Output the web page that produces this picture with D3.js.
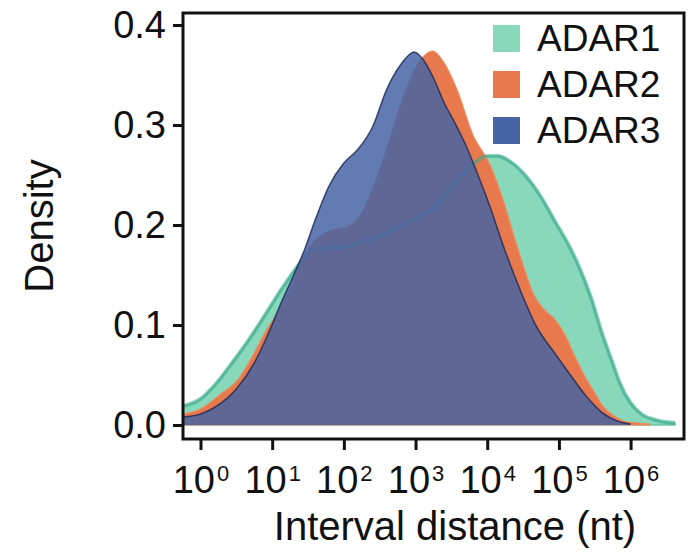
<!DOCTYPE html>
<html>
<head>
<meta charset="utf-8">
<script src="https://cdn.jsdelivr.net/npm/d3@7"></script>
<style>
  html, body { margin: 0; padding: 0; background: #fff; }
  svg { display: block; font-family: "Liberation Sans", Arial, Helvetica, sans-serif; }
</style>
</head>
<body>
<svg id="chart" width="689" height="553"></svg>
<script>
// Density of log10 interval distance (nt) between editing sites, per ADAR family member.
const seriesNames = ["ADAR1", "ADAR2", "ADAR3"];
const seriesColors = ["#88d8bb", "#e8794d", "#4764a5"];

const adar1LogDist = [-0.244, 0.0, 0.2, 0.45, 0.7, 0.9, 1.15, 1.4, 1.55, 1.75, 2.0, 2.3, 2.6, 2.9, 3.2, 3.5, 3.75, 4.0, 4.15, 4.35, 4.55, 4.75, 4.95, 5.15, 5.3, 5.45, 5.6, 5.75, 5.85, 6.0, 6.15, 6.35, 6.62];
const adar1Density = [0.019, 0.026, 0.040, 0.063, 0.088, 0.110, 0.138, 0.163, 0.175, 0.177, 0.178, 0.184, 0.192, 0.202, 0.215, 0.237, 0.257, 0.269, 0.269, 0.262, 0.248, 0.228, 0.203, 0.178, 0.155, 0.127, 0.092, 0.062, 0.042, 0.022, 0.011, 0.005, 0.002];

const adar2LogDist = [-0.244, 0.0, 0.25, 0.55, 0.75, 0.92, 1.1, 1.3, 1.47, 1.65, 1.85, 2.05, 2.25, 2.45, 2.65, 2.85, 3.05, 3.24, 3.4, 3.58, 3.8, 4.04, 4.22, 4.36, 4.5, 4.65, 4.8, 4.95, 5.1, 5.2, 5.35, 5.5, 5.6, 5.75, 5.9, 6.1, 6.27];
const adar2Density = [0.011, 0.016, 0.029, 0.048, 0.072, 0.095, 0.115, 0.145, 0.172, 0.188, 0.195, 0.198, 0.212, 0.245, 0.288, 0.332, 0.363, 0.374, 0.362, 0.335, 0.290, 0.260, 0.225, 0.192, 0.160, 0.130, 0.115, 0.105, 0.088, 0.072, 0.050, 0.032, 0.020, 0.010, 0.004, 0.002, 0.001];

const adar3LogDist = [-0.244, 0.0, 0.25, 0.5, 0.75, 0.95, 1.1, 1.3, 1.45, 1.6, 1.8, 2.0, 2.2, 2.4, 2.6, 2.8, 2.98, 3.1, 3.25, 3.4, 3.55, 3.7, 3.86, 4.04, 4.22, 4.46, 4.69, 4.92, 5.15, 5.39, 5.61, 5.81, 6.0];
const adar3Density = [0.008, 0.011, 0.020, 0.036, 0.062, 0.092, 0.118, 0.150, 0.175, 0.205, 0.240, 0.262, 0.276, 0.298, 0.336, 0.361, 0.373, 0.366, 0.347, 0.322, 0.302, 0.280, 0.252, 0.218, 0.180, 0.135, 0.098, 0.074, 0.051, 0.028, 0.012, 0.004, 0.001];

const yTickValues = [0, 0.1, 0.2, 0.3, 0.4];
const xTickExponents = [0, 1, 2, 3, 4, 5, 6];
const xTitle = "Interval distance (nt)";
const yTitle = "Density";

const svg = d3.select("#chart");
const box = { left: 183, right: 684, top: 13, bottom: 439 };

const x = d3.scaleLog()
  .domain([Math.pow(10, -0.244), Math.pow(10, 6.745)])
  .range([box.left, box.right]);
const y = d3.scaleLinear()
  .domain([-0.014, 0.412])
  .range([box.bottom, box.top]);

const toPoints = (logs, dens) => logs.map((l, i) => ({ dist: Math.pow(10, l), density: dens[i] }));
const series = [
  toPoints(adar1LogDist, adar1Density),
  toPoints(adar2LogDist, adar2Density),
  toPoints(adar3LogDist, adar3Density)
];

svg.append("defs").append("clipPath").attr("id", "plotClip")
  .append("rect")
  .attr("x", box.left).attr("y", box.top)
  .attr("width", box.right - box.left).attr("height", box.bottom - box.top);

const area = d3.area()
  .x(d => x(d.dist))
  .y0(y(0))
  .y1(d => y(d.density))
  .curve(d3.curveMonotoneX);
const line = d3.line()
  .x(d => x(d.dist))
  .y(d => y(d.density))
  .curve(d3.curveMonotoneX);

const plot = svg.append("g").attr("clip-path", "url(#plotClip)");

// ADAR1 underneath, ADAR2 over it, ADAR3 translucent on top
plot.append("path").datum(series[0])
  .attr("d", area).attr("fill", seriesColors[0])
  .attr("stroke", "#6cc7a6").attr("stroke-width", 1.5);
plot.append("path").datum(series[1])
  .attr("d", area).attr("fill", seriesColors[1])
  .attr("stroke", "#ef8a5e").attr("stroke-width", 1.2);
plot.append("path").datum(series[0])
  .attr("d", line).attr("fill", "none")
  .attr("stroke", "#3aa88c").attr("stroke-width", 4).attr("stroke-opacity", 0.55);
plot.append("path").datum(series[2])
  .attr("d", area).attr("fill", seriesColors[2]).attr("fill-opacity", 0.85);
plot.append("path").datum(series[2])
  .attr("d", line).attr("fill", "none")
  .attr("stroke", "#1e2a55").attr("stroke-width", 1.6).attr("stroke-opacity", 0.8);

// Frame
svg.append("rect")
  .attr("x", box.left).attr("y", box.top)
  .attr("width", box.right - box.left).attr("height", box.bottom - box.top)
  .attr("fill", "none").attr("stroke", "#111").attr("stroke-width", 3);

// Y axis
const yAxisG = svg.append("g")
  .attr("transform", `translate(${box.left},0)`)
  .call(d3.axisLeft(y).tickValues(yTickValues).tickFormat(d3.format(".1f")).tickSize(10).tickPadding(7));
yAxisG.select(".domain").remove();
yAxisG.selectAll(".tick line").attr("stroke", "#111").attr("stroke-width", 3);
yAxisG.selectAll(".tick text")
  .attr("fill", "#111")
  .attr("font-family", "'Liberation Sans', Arial, sans-serif")
  .attr("font-size", 38);

// X axis with power-of-ten labels
const xAxisG = svg.append("g")
  .attr("transform", `translate(0,${box.bottom})`)
  .call(d3.axisBottom(x).tickValues(xTickExponents.map(k => Math.pow(10, k))).tickFormat(() => "").tickSize(11));
xAxisG.select(".domain").remove();
xAxisG.selectAll(".tick line").attr("stroke", "#111").attr("stroke-width", 3);
xAxisG.selectAll(".tick text").remove();
xAxisG.selectAll(".tick").each(function (d) {
  const t = d3.select(this).append("text")
    .attr("y", 54)
    .attr("text-anchor", "middle")
    .attr("fill", "#111")
    .attr("font-family", "'Liberation Sans', Arial, sans-serif")
    .attr("font-size", 38);
  t.append("tspan").text("10");
  t.append("tspan").attr("font-size", 22).attr("dx", 2).attr("dy", -12)
    .text(Math.round(Math.log10(d)));
});

// Axis titles
svg.append("text")
  .attr("x", 455).attr("y", 540)
  .attr("text-anchor", "middle")
  .attr("font-size", 40).attr("fill", "#111")
  .text(xTitle);
svg.append("text")
  .attr("transform", "translate(53,226) rotate(-90)")
  .attr("text-anchor", "middle")
  .attr("font-size", 40).attr("fill", "#111")
  .text(yTitle);

// Legend
const legend = svg.append("g");
seriesNames.forEach((name, i) => {
  const row = legend.append("g").attr("transform", `translate(493,${25 + i * 46})`);
  row.append("rect").attr("width", 27).attr("height", 27).attr("fill", seriesColors[i]);
  row.append("text").attr("x", 44).attr("y", 26)
    .attr("font-size", 37).attr("fill", "#111")
    .text(name);
});
</script>
</body>
</html>
